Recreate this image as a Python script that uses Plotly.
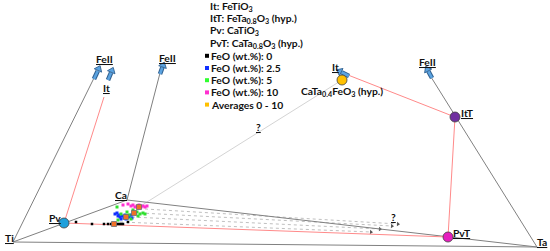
import math
import plotly.graph_objects as go

# ---- diagram nodes (schematic units, y grows downward) ----
node_names = ["Ti", "Ta", "Ca", "Pv", "PvT", "ItT", "CaTaFe", "FeL", "ItL", "FeM", "FeR", "ItR", "Clu"]
node_x = [13, 537, 127, 64, 448, 455, 342, 94, 104, 160, 431, 348, 139]
node_y = [242, 247, 200, 223, 237, 117, 80, 78, 97, 73, 77, 75, 207]
N = {n: (x, y) for n, x, y in zip(node_names, node_x, node_y)}

gray_edges = [("Ti", "FeL"), ("Ti", "Ta"), ("Ti", "Ca"), ("Ca", "Ta"), ("Ca", "FeM"), ("Ta", "FeR")]
red_edges = [("Pv", "ItL"), ("Pv", "PvT"), ("PvT", "ItT"), ("ItT", "ItR")]
light_edges = [("Clu", "CaTaFe")]

# dotted projection lines (start -> end)
proj_x0 = [145, 140, 132, 120]
proj_y0 = [209, 213, 217, 222]
proj_x1 = [398, 392, 380, 371]
proj_y1 = [224, 226, 229, 232]

# block arrows (tail -> tip)
arrow_x0 = [94, 108, 160, 432, 349]
arrow_y0 = [79, 80, 74, 78, 76]
arrow_x1 = [100, 113, 164, 426, 337]
arrow_y1 = [66, 68, 63, 67, 70]

# ---- analyses ----
black_x = [76, 92, 104, 108, 111, 113, 115, 117, 119, 121, 123, 128]
black_y = [222, 224, 224, 224, 224, 224, 224, 224, 224, 224, 224, 222]
blue_x = [115, 117, 119, 120, 122, 124, 125, 127, 129, 131, 132, 118, 121, 126]
blue_y = [214, 213, 215, 217, 216, 218, 215, 216, 217, 215, 218, 216, 219, 219]
green_x = [117, 121, 127, 131, 137, 140, 145, 118, 133, 138, 143, 129]
green_y = [207, 214, 212, 219, 212, 214, 214, 220, 210, 216, 213, 215]
mag_x = [123, 131, 133, 135, 137, 139, 141, 143, 145, 147, 138, 128]
mag_y = [205, 206, 205, 207, 206, 205, 207, 206, 207, 206, 208, 204]
avg_x = [114, 126, 134, 139]
avg_y = [224, 217, 213, 207]

# ---- legend ----
legend_text = ["It: FeTiO<sub>3</sub>", "ItT: FeTa<sub>0.8</sub>O<sub>3</sub> (hyp.)",
               "Pv: CaTiO<sub>3</sub>", "PvT: CaTa<sub>0.8</sub>O<sub>3</sub> (hyp.)"]
legend_items = ["FeO (wt.%): 0", "FeO (wt.%): 2.5", "FeO (wt.%): 5", "FeO (wt.%): 10", "Averages 0 - 10"]
legend_colors = ["#000000", "#1030ff", "#30ff30", "#ff30d0", "#ffc000"]
legend_y0 = 7
legend_dy = 12.2

FONT = "Lato"
FS = 10.3
fig = go.Figure()

def edge_trace(edges, color, width, dash="solid"):
    xs, ys = [], []
    for a, b in edges:
        xs += [N[a][0], N[b][0], None]
        ys += [N[a][1], N[b][1], None]
    fig.add_trace(go.Scatter(x=xs, y=ys, mode="lines", line=dict(color=color, width=width, dash=dash),
                             hoverinfo="skip", showlegend=False))

edge_trace(light_edges, "#d4d4d4", 1)
xs, ys = [], []
for a, b, c, d in zip(proj_x0, proj_y0, proj_x1, proj_y1):
    xs += [a, c, None]
    ys += [b, d, None]
fig.add_trace(go.Scatter(x=xs, y=ys, mode="lines", line=dict(color="#c0c0c0", width=1, dash="dot"),
                         hoverinfo="skip", showlegend=False))
fig.add_trace(go.Scatter(x=proj_x1, y=proj_y1, mode="markers",
                         marker=dict(symbol="triangle-right", size=4, color="#555555", angle=4),
                         hoverinfo="skip", showlegend=False))
edge_trace(gray_edges, "#808080", 1)
edge_trace(red_edges, "#ff8a8a", 1)

# block arrows: outlined shaft + rotated triangular head
for x0, y0, x1, y1 in zip(arrow_x0, arrow_y0, arrow_x1, arrow_y1):
    ang = math.degrees(math.atan2(x1 - x0, -(y1 - y0)))
    mx, my = x0 + 0.62 * (x1 - x0), y0 + 0.62 * (y1 - y0)
    hx, hy = x0 + 0.78 * (x1 - x0), y0 + 0.78 * (y1 - y0)
    for col, w in (("#2f5f8f", 4.6), ("#5ba3e0", 2.6)):
        fig.add_trace(go.Scatter(x=[x0, mx], y=[y0, my], mode="lines",
                                 line=dict(color=col, width=w), hoverinfo="skip", showlegend=False))
    fig.add_trace(go.Scatter(x=[hx], y=[hy], mode="markers",
                             marker=dict(symbol="triangle-up", angle=ang, size=7,
                                         color="#5ba3e0", line=dict(color="#2f5f8f", width=0.9)),
                             hoverinfo="skip", showlegend=False))

def pts(x, y, color, size=3, symbol="square", line=None):
    fig.add_trace(go.Scatter(x=x, y=y, mode="markers",
                             marker=dict(symbol=symbol, size=size, color=color,
                                         line=line or dict(width=0)),
                             hoverinfo="skip", showlegend=False))

pts(black_x, black_y, "#000000", 2.5)
pts(blue_x, blue_y, "#1030ff", 3)
pts(green_x, green_y, "#30e030", 3)
pts(mag_x, mag_y, "#ff30d0", 3)
pts(avg_x, avg_y, "#f07028", 5, line=dict(color="#707070", width=0.8))

circ = [("Pv", "#1ea0dc"), ("ItT", "#7030a0"), ("PvT", "#e61ebe"), ("CaTaFe", "#ffc000")]
pts([N[n][0] for n, _ in circ], [N[n][1] for n, _ in circ], [c for _, c in circ], 10, "circle",
    dict(color="#404040", width=0.8))

pts([207] * 5, [legend_y0 + legend_dy * (4 + i) for i in range(5)], legend_colors, 4)

ann = []
def label(txt, x, y, size=FS, anchor="center"):
    ann.append(dict(x=x, y=y, text=txt, showarrow=False, xanchor=anchor, yanchor="middle",
                    font=dict(family=FONT, size=size, color="#111111")))

for i, t in enumerate(legend_text):
    label("<b>" + t + "</b>", 208, legend_y0 + legend_dy * i, anchor="left")
for i, t in enumerate(legend_items):
    label("<b>" + t + "</b>", 209, legend_y0 + legend_dy * (4 + i), anchor="left")

label("<b><u>Ti</u></b>", 9, 238)
label("<b><u>Ta</u></b>", 542, 242)
label("<b><u>Ca</u></b>", 121, 195)
label("<b><u>Pv</u></b>", 55, 218)
label("<b><u>PvT</u></b>", 462, 233)
label("<b><u>ItT</u></b>", 467, 113)
label("<b>CaTa<sub>0.4</sub>FeO<sub>3</sub> (hyp.)</b>", 342, 92)
label("<b><u>FeII</u></b>", 104, 59)
label("<b><u>It</u></b>", 106, 88)
label("<b><u>FeII</u></b>", 167, 58)
label("<b><u>FeII</u></b>", 427, 62)
label("<b><u>It</u></b>", 335, 67)
label("<b><u>?</u></b>", 258, 127)
label("<b><u>?</u></b>", 393, 217)

fig.update_layout(
    width=550, height=251, margin=dict(l=0, r=0, t=0, b=0),
    paper_bgcolor="white", plot_bgcolor="white",
    xaxis=dict(range=[0, 550], visible=False, fixedrange=True),
    yaxis=dict(range=[251, 0], visible=False, fixedrange=True),
    annotations=ann, showlegend=False,
)
fig.write_html("out.html", config={"displayModeBar": False},
               post_script="document.body.style.margin='0';document.body.style.overflow='hidden';")
